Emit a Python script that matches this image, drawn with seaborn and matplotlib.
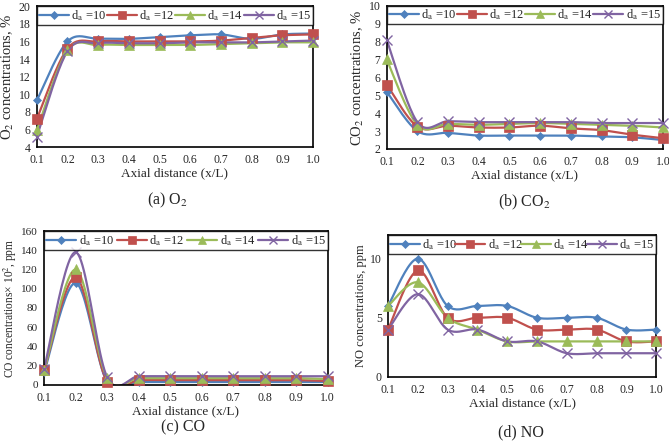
import numpy as np
import pandas as pd
import matplotlib
matplotlib.use('Agg')
import matplotlib.pyplot as plt
import seaborn as sns
from matplotlib.lines import Line2D

"""four panels of gas concentrations along the combustor axis for several d_a values"""

x_pos = [0.1, 0.2, 0.3, 0.4, 0.5, 0.6, 0.7, 0.8, 0.9, 1.0]
series_names = ['10', '12', '14', '15']

o2_10 = [9.3, 16.0, 16.3, 16.3, 16.5, 16.7, 16.8, 16.3, 16.8, 16.9]
o2_12 = [7.2, 15.2, 16.0, 16.0, 16.0, 16.0, 16.1, 16.4, 16.7, 16.8]
o2_14 = [5.9, 15.0, 15.6, 15.6, 15.6, 15.6, 15.7, 15.8, 15.9, 15.9]
o2_15 = [5.2, 14.9, 15.8, 15.8, 15.8, 15.9, 15.9, 15.9, 16.0, 16.1]

co2_10 = [5.2, 3.0, 2.9, 2.75, 2.75, 2.75, 2.75, 2.7, 2.65, 2.5]
co2_12 = [5.6, 3.25, 3.3, 3.2, 3.2, 3.3, 3.15, 3.05, 2.8, 2.6]
co2_14 = [7.0, 3.35, 3.4, 3.35, 3.4, 3.45, 3.4, 3.35, 3.3, 3.2]
co2_15 = [8.1, 3.5, 3.55, 3.5, 3.5, 3.5, 3.5, 3.45, 3.45, 3.45]

co_10 = [13, 106, 3, 3, 3, 3, 3, 3, 3, 3]
co_12 = [15, 112, 3, 5, 5, 5, 5, 5, 5, 4]
co_14 = [15, 120, 7, 7, 7, 7, 7, 7, 7, 6]
co_15 = [17, 138, 8, 9, 9, 9, 9, 9, 9, 9]

no_10 = [6, 10, 6, 6, 6, 5, 5, 5, 4, 4]
no_12 = [4, 9, 5, 5, 5, 4, 4, 4, 3, 3]
no_14 = [6, 8, 5, 4, 3, 3, 3, 3, 3, 3]
no_15 = [4, 7, 4, 4, 3, 3, 2, 2, 2, 2]

colors = ['#4F81BD', '#C0504D', '#9BBB59', '#8064A2']
markers = ['D', 's', '^', 'x']
msizes = [4.5, 6.5, 6.5, 7]


def smooth_curve(x, y, n=24):
    """excel style smoothed line (catmull-rom bezier) through the points"""
    p = np.column_stack([x, y]).astype(float)
    p = np.vstack([p[0], p, p[-1]])
    t = np.linspace(0, 1, n)[:, None]
    out = []
    for i in range(1, len(p) - 2):
        p0, p1, p2, p3 = p[i - 1], p[i], p[i + 1], p[i + 2]
        c1 = p1 + (p2 - p0) / 6
        c2 = p2 - (p3 - p1) / 6
        seg = ((1 - t) ** 3) * p1 + 3 * ((1 - t) ** 2) * t * c1 + 3 * (1 - t) * t ** 2 * c2 + t ** 3 * p2
        out.append(seg)
    out = np.vstack(out)
    return out[:, 0], out[:, 1]


def draw_panel(fig, rect, data, ylim, yticks, ylabel, caption, cap_xy, minor=None,
               ylab_size=9.5, ylab_x=None, ytick_size=8.5):
    ax = fig.add_axes(rect)
    lines = []
    points = []
    for name, vals in zip(series_names, data):
        sx, sy = smooth_curve(x_pos, vals)
        lines.append(pd.DataFrame({'x': sx, 'y': sy, 'series': name}))
        points.append(pd.DataFrame({'x': x_pos, 'y': vals, 'series': name}))
    lines = pd.concat(lines)
    points = pd.concat(points)

    sns.lineplot(data=lines, x='x', y='y', hue='series', palette=colors, sort=False,
                 estimator=None, units='series', linewidth=1.6, legend=False, ax=ax)
    for i, name in enumerate(series_names):
        sub = points[points.series == name]
        ax.plot(sub.x, sub.y, linestyle='none', marker=markers[i], color=colors[i],
                markersize=msizes[i], markeredgewidth=1.0 if markers[i] == 'x' else 0.5,
                clip_on=False, zorder=5)

    ax.set_xlim(0.1, 1.0)
    ax.set_ylim(*ylim)
    ax.set_xticks(x_pos)
    ax.set_xticklabels([f'{v:.1f}' for v in x_pos])
    ax.set_yticks(yticks)
    if minor is not None:
        ax.set_yticks(minor, minor=True)
    ax.set_xlabel('Axial distance (x/L)', fontsize=9.5, labelpad=1)
    ax.set_ylabel(ylabel, fontsize=ylab_size, labelpad=2)
    if ylab_x is not None:
        ax.yaxis.set_label_coords(ylab_x, 0.5)
    ax.tick_params(axis='x', labelsize=8.5, length=3, width=0.8, direction='out', pad=2)
    ax.tick_params(axis='y', labelsize=ytick_size, length=3, width=0.8, direction='out', pad=1.5)
    ax.tick_params(axis='y', which='minor', length=2, direction='out')
    for s in ax.spines.values():
        s.set_color('black')
        s.set_linewidth(1.2)
    ax.grid(False)

    handles = [Line2D([0], [0], color=colors[i], marker=markers[i], markersize=msizes[i] * 0.9,
                      linewidth=1.6, markeredgewidth=1.0 if markers[i] == 'x' else 0.5)
               for i in range(4)]
    labels = [f'd$_\\mathrm{{a}}$ ={n}' for n in series_names]
    leg = ax.legend(handles, labels, loc='upper left', bbox_to_anchor=(0, 1.0, 1, 0.0),
                    mode='expand', ncol=4, fontsize=9, frameon=True, fancybox=False,
                    borderpad=0.15, handlelength=2.4, handletextpad=0.2, columnspacing=0.8,
                    borderaxespad=0)
    leg.get_frame().set_edgecolor('black')
    leg.get_frame().set_linewidth(1.0)
    fig.text(cap_xy[0], cap_xy[1], caption, fontsize=11.5, ha='center', va='center')
    return ax


sns.set_theme(style='white')
plt.rcParams['font.family'] = ['Liberation Serif', 'DejaVu Serif']
plt.rcParams['mathtext.fontset'] = 'stix'

fig = plt.figure(figsize=(6.69, 4.46), dpi=100)

draw_panel(fig, [0.055, 0.670, 0.413, 0.316], [o2_10, o2_12, o2_14, o2_15],
           (4, 20), list(range(4, 21, 2)), 'O$_2$ concentrations, %',
           '(a) O$_2$', (167 / 669, 1 - 200 / 446), ylab_size=10.5)
draw_panel(fig, [0.578, 0.666, 0.413, 0.321], [co2_10, co2_12, co2_14, co2_15],
           (2, 10), list(range(2, 11)), 'CO$_2$ concentrations, %',
           '(b) CO$_2$', (524 / 669, 1 - 202 / 446), ylab_size=10.5)
draw_panel(fig, [0.066, 0.137, 0.424, 0.345], [co_10, co_12, co_14, co_15],
           (0, 160), list(range(0, 161, 20)), 'CO concentrations\u00d7 10$^2$, ppm',
           '(c) CO', (183 / 669, 1 - 427 / 446), minor=list(range(0, 161, 10)),
           ylab_size=8.3, ylab_x=-0.088, ytick_size=8)
draw_panel(fig, [0.580, 0.155, 0.401, 0.318], [no_10, no_12, no_14, no_15],
           (0, 12), [0, 5, 10], 'NO concentrations, ppm',
           '(d) NO', (521 / 669, 1 - 432 / 446), minor=list(range(0, 13)), ylab_size=9)

plt.savefig('out.png', dpi=100)
plt.close()
